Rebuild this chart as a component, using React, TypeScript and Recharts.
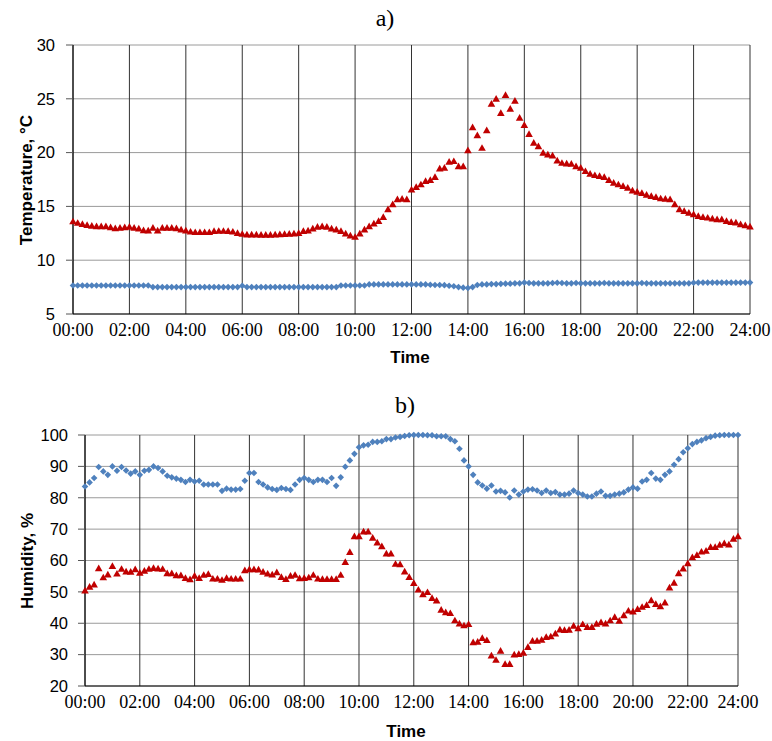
import React from 'react';
import { ScatterChart, Scatter, XAxis, YAxis, CartesianGrid } from 'recharts';

const timeLabels = ['00:00', '02:00', '04:00', '06:00', '08:00', '10:00', '12:00', '14:00', '16:00', '18:00', '20:00', '22:00', '24:00'];
const tempTicksX = [0, 12, 24, 36, 48, 60, 72, 84, 96, 108, 120, 132, 144];
const humTicksX = [0, 12, 24, 36, 48, 60, 72, 84, 96, 108, 120, 132, 143];
const tempTicksY = [5, 10, 15, 20, 25, 30];
const humTicksY = [20, 30, 40, 50, 60, 70, 80, 90, 100];

// Panel a) temperature, red triangles
const tempRed = [
  13.6, 13.46, 13.36, 13.27, 13.2, 13.15, 13.15, 13.15, 13.05, 12.96,
  13.0, 13.05, 13.1, 13.0, 12.93, 12.78, 12.75, 13.0, 12.75, 13.0,
  13.0, 13.0, 12.96, 12.84, 12.75, 12.65, 12.6, 12.6, 12.6, 12.6,
  12.7, 12.72, 12.72, 12.7, 12.65, 12.53, 12.44, 12.38, 12.38, 12.38,
  12.35, 12.35, 12.35, 12.38, 12.4, 12.42, 12.45, 12.48, 12.53, 12.7,
  12.75, 12.93, 13.1, 13.15, 13.1, 12.93, 12.84, 12.7, 12.47, 12.28,
  12.16, 12.47, 12.84, 13.15, 13.4,
  13.64, 14.01, 14.72, 15.19, 15.65,
  15.71, 15.65, 16.57, 16.79, 17.04, 17.35, 17.44, 17.72, 18.52, 18.58,
  19.14, 19.2, 18.73, 18.73, 20.22, 22.35, 21.6, 20.43, 22.07, 24.54,
  25.0, 23.67, 25.34, 24.07, 24.81, 23.24, 22.56, 21.73, 20.9, 20.59,
  19.97, 19.81, 19.72, 19.26, 19.04, 18.98, 18.95, 18.73, 18.58, 18.27,
  18.02, 17.9, 17.81, 17.72, 17.44, 17.19, 17.04, 16.88, 16.73, 16.48,
  16.36, 16.23, 16.08, 15.96, 15.86, 15.74, 15.71, 15.65, 15.19, 14.72,
  14.57, 14.41, 14.26, 14.1, 14.01, 13.95, 13.86, 13.8, 13.8, 13.64,
  13.55, 13.49, 13.33, 13.24, 13.12,
];

// Panel a) temperature, blue diamonds
const tempBlue = [
  7.65, 7.65, 7.65, 7.65, 7.65, 7.65, 7.65, 7.65, 7.65, 7.65,
  7.65, 7.65, 7.65, 7.65, 7.65, 7.65, 7.65, 7.5, 7.5, 7.5,
  7.5, 7.5, 7.5, 7.5, 7.5, 7.5, 7.5, 7.5, 7.5, 7.5,
  7.5, 7.5, 7.5, 7.5, 7.5, 7.5, 7.62, 7.5, 7.5, 7.5,
  7.5, 7.5, 7.5, 7.5, 7.5, 7.5, 7.5, 7.5, 7.5, 7.5,
  7.5, 7.5, 7.5, 7.5, 7.5, 7.5, 7.5, 7.65, 7.65, 7.65,
  7.65, 7.65, 7.65, 7.75, 7.75, 7.75, 7.75, 7.75, 7.75, 7.75,
  7.75, 7.75, 7.75, 7.75, 7.75, 7.75, 7.72, 7.7, 7.7, 7.68,
  7.62, 7.58, 7.5, 7.45, 7.42, 7.5, 7.7, 7.75, 7.75, 7.78,
  7.78, 7.8, 7.82, 7.82, 7.85, 7.85, 7.92, 7.88, 7.85, 7.85,
  7.85, 7.85, 7.88, 7.9, 7.88, 7.85, 7.85, 7.88, 7.85, 7.85,
  7.85, 7.85, 7.85, 7.88, 7.85, 7.85, 7.85, 7.85, 7.85, 7.85,
  7.85, 7.88, 7.85, 7.85, 7.85, 7.85, 7.85, 7.85, 7.85, 7.85,
  7.85, 7.85, 7.9, 7.92, 7.92, 7.92, 7.92, 7.92, 7.92, 7.92,
  7.92, 7.92, 7.92, 7.92, 7.92,
];

// Panel b) humidity, blue diamonds
const humBlue = [
  83.6, 84.9, 86.3, 89.8, 88.4, 87.3, 90.0, 88.6, 89.8, 88.7,
  87.7, 88.4, 87.3, 88.6, 88.9, 90.0, 89.5, 88.4, 87.0, 86.5,
  86.1, 85.7, 85.0, 85.7, 85.2, 85.4, 84.2, 84.2, 84.2, 84.2,
  82.2, 82.9, 82.6, 82.6, 82.8, 85.4, 87.9, 87.9, 85.0, 84.2,
  83.3, 82.8, 82.5, 83.1, 82.8, 82.5, 84.2, 85.7, 86.3, 85.7,
  85.0, 85.7, 85.7, 85.0, 86.3, 83.8, 86.5, 89.9, 91.9, 94.0,
  96.1, 96.7, 96.9, 97.8, 97.8, 98.0, 98.7, 98.7, 99.2, 99.4,
  99.7, 99.9, 100, 100, 100, 99.9, 99.9, 99.6, 99.6, 99.6,
  98.7, 98.0, 95.6, 91.9, 90.0, 87.3, 84.9, 83.9, 82.9, 83.9,
  82.0, 82.2, 81.7, 80.1, 82.3, 81.0, 82.0, 82.6, 82.7, 82.3,
  81.5, 82.3, 81.5, 81.8, 81.0, 81.0, 81.3, 82.3, 81.5, 81.0,
  80.4, 80.4, 81.3, 82.0, 80.6, 80.6, 81.0, 81.3, 81.7, 82.6,
  83.3, 82.9, 85.2, 85.7, 87.9, 86.1, 85.7, 87.3, 88.4, 90.5,
  92.3, 94.5, 95.8, 97.1, 97.8, 98.3, 99.0, 99.4, 99.8, 99.9,
  100, 100, 100, 100,
];

// Panel b) humidity, red triangles
const humRed = [
  50.4, 51.6, 52.3, 57.5, 54.6, 55.5, 58.2, 55.8, 57.3, 56.5,
  56.4, 57.2, 56.1, 56.7, 57.3, 57.6, 57.4, 57.3, 55.9, 55.9,
  55.3, 55.3, 54.4, 54.0, 55.1, 54.4, 55.4, 55.7, 54.2, 54.2,
  53.8, 54.4, 54.2, 54.2, 54.2, 56.9, 57.2, 57.2, 57.1, 56.4,
  55.8, 55.5, 56.2, 54.7, 54.1, 55.1, 55.4, 54.3, 54.4, 54.6,
  55.4, 54.2, 54.1, 54.1, 54.1, 54.1, 55.4, 59.5, 62.7, 67.7,
  67.7, 69.2, 69.2, 67.2, 65.7, 64.5, 62.2, 62.2, 58.9, 58.8,
  56.5, 54.7, 52.8, 50.7, 49.2, 49.9, 48.0, 47.2, 44.3, 43.5,
  43.2, 40.9, 39.9, 39.3, 39.7, 33.9, 34.1, 35.3, 34.6, 29.7,
  28.3, 31.2, 27.0, 27.0, 30.0, 30.2, 30.6, 32.4, 34.4, 34.4,
  34.7, 35.6, 35.8, 36.7, 38.0, 37.8, 37.9, 39.2, 38.4, 39.7,
  38.8, 38.8, 39.8, 40.3, 39.9, 40.9, 42.0, 40.8, 42.5, 44.0,
  43.7, 44.5, 45.2, 45.8, 47.3, 46.1, 45.4, 46.6, 51.4, 52.9,
  55.9, 57.4, 59.1, 61.0, 61.7, 62.8, 63.1, 64.3, 64.3, 65.0,
  65.5, 65.1, 66.9, 67.7,
];

const RED = '#C00000';
const BLUE = '#4F81BD';

const toPoints = (arr: number[]) => arr.map((v, i) => ({ x: i, y: v }));

const Triangle = (props: any) => {
  const { cx, cy } = props;
  if (cx == null || cy == null) return null;
  return <path d={`M${cx},${cy - 3.8}L${cx + 3.8},${cy + 2.9}L${cx - 3.8},${cy + 2.9}Z`} fill={RED} />;
};

const Diamond = (props: any) => {
  const { cx, cy } = props;
  if (cx == null || cy == null) return null;
  return <path d={`M${cx},${cy - 3.3}L${cx + 3.3},${cy}L${cx},${cy + 3.3}L${cx - 3.3},${cy}Z`} fill={BLUE} />;
};

const xTickStyle = { fill: '#000', fontFamily: '"Liberation Serif", "Times New Roman", serif', fontSize: 18 };
const yTickStyle = { fill: '#000', fontFamily: '"Liberation Sans", Arial, sans-serif', fontSize: 16.5 };

const labelStyle: React.CSSProperties = {
  position: 'absolute',
  fontFamily: '"Liberation Sans", Arial, sans-serif',
  fontWeight: 'bold',
  fontSize: 17,
  whiteSpace: 'nowrap',
  color: '#000',
  transform: 'translate(-50%, -50%)',
};

const titleStyle: React.CSSProperties = {
  position: 'absolute',
  fontFamily: '"Liberation Serif", "Times New Roman", serif',
  fontSize: 24,
  whiteSpace: 'nowrap',
  color: '#000',
  transform: 'translate(-50%, -50%)',
};

export default function App() {
  const fmtTemp = (v: number) => timeLabels[tempTicksX.indexOf(v)] ?? '';
  const fmtHum = (v: number) => timeLabels[humTicksX.indexOf(v)] ?? '';
  return (
    <div style={{ position: 'absolute', left: 0, top: 0, width: 772, height: 741, background: '#fff' }}>
      <div style={{ position: 'absolute', left: 0, top: 0 }}>
        <ScatterChart width={772} height={380} margin={{ top: 45, right: 22, bottom: 0, left: 0 }}>
          <CartesianGrid vertical={false} stroke="#9a9a9a" strokeWidth={1} />
          <CartesianGrid horizontal={false} stroke="#333333" strokeWidth={1} />
          <XAxis
            type="number"
            dataKey="x"
            domain={[0, 144]}
            ticks={tempTicksX}
            interval={0}
            tickFormatter={fmtTemp}
            tickLine={false}
            axisLine={{ stroke: '#000' }}
            height={66}
            tick={xTickStyle}
            tickMargin={3}
          />
          <YAxis
            type="number"
            dataKey="y"
            domain={[5, 30]}
            ticks={tempTicksY}
            interval={0}
            width={73}
            tickSize={7}
            tickMargin={11}
            tickLine={{ stroke: '#555' }}
            axisLine={{ stroke: '#000' }}
            tick={yTickStyle}
          />
          <Scatter data={toPoints(tempBlue)} shape={Diamond} isAnimationActive={false} />
          <Scatter data={toPoints(tempRed)} shape={Triangle} isAnimationActive={false} />
        </ScatterChart>
      </div>
      <div style={{ position: 'absolute', left: 0, top: 370 }}>
        <ScatterChart width={772} height={371} margin={{ top: 65, right: 34, bottom: 0, left: 0 }}>
          <CartesianGrid vertical={false} stroke="#9a9a9a" strokeWidth={1} />
          <CartesianGrid horizontal={false} stroke="#333333" strokeWidth={1} />
          <XAxis
            type="number"
            dataKey="x"
            domain={[0, 143]}
            ticks={humTicksX}
            interval={0}
            tickFormatter={fmtHum}
            tickLine={false}
            axisLine={{ stroke: '#000' }}
            height={55}
            tick={xTickStyle}
            tickMargin={3}
          />
          <YAxis
            type="number"
            dataKey="y"
            domain={[20, 100]}
            ticks={humTicksY}
            interval={0}
            width={85}
            tickSize={7}
            tickMargin={10}
            tickLine={{ stroke: '#555' }}
            axisLine={{ stroke: '#000' }}
            tick={yTickStyle}
          />
          <Scatter data={toPoints(humBlue)} shape={Diamond} isAnimationActive={false} />
          <Scatter data={toPoints(humRed)} shape={Triangle} isAnimationActive={false} />
        </ScatterChart>
      </div>
      <div style={{ ...titleStyle, left: 385, top: 18 }}>a)</div>
      <div style={{ ...titleStyle, left: 405, top: 405 }}>b)</div>
      <div style={{ ...labelStyle, left: 27, top: 180, transform: 'translate(-50%, -50%) rotate(-90deg)' }}>Temperature, °C</div>
      <div style={{ ...labelStyle, left: 28, top: 561, transform: 'translate(-50%, -50%) rotate(-90deg)' }}>Humidity, %</div>
      <div style={{ ...labelStyle, left: 410, top: 358 }}>Time</div>
      <div style={{ ...labelStyle, left: 406, top: 732 }}>Time</div>
    </div>
  );
}
